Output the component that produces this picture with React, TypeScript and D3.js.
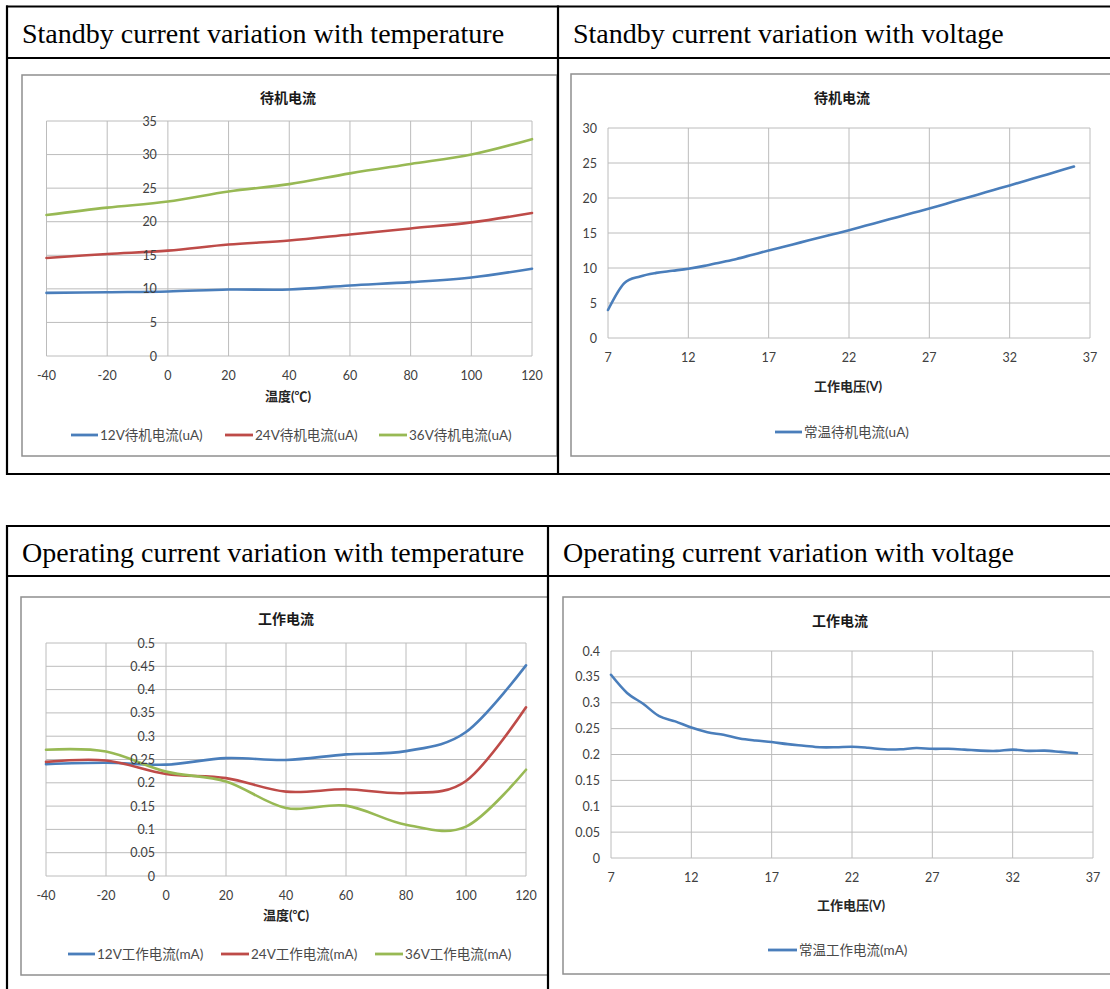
import React from 'react';
import * as d3 from 'd3';

// ---------- DATA ----------
const tempCategories = [-40, -20, 0, 20, 40, 60, 80, 100, 120];
const standby12V = [9.4, 9.5, 9.6, 9.9, 9.9, 10.5, 11.0, 11.7, 13.0];
const standby24V = [14.6, 15.2, 15.7, 16.6, 17.2, 18.1, 19.0, 19.9, 21.3];
const standby36V = [21.0, 22.1, 23.0, 24.5, 25.6, 27.2, 28.6, 30.0, 32.3];

const voltageCategories = [7, 8, 9, 10, 11, 12, 13, 14, 15, 16, 17, 18, 19, 20, 21, 22, 23, 24, 25, 26, 27, 28, 29, 30, 31, 32, 33, 34, 35, 36];
const standbyVsVoltage = [4.0, 7.8, 8.8, 9.3, 9.6, 9.9, 10.3, 10.8, 11.3, 11.9, 12.5, 13.08, 13.66, 14.24, 14.82, 15.4, 16.02, 16.64, 17.26, 17.88, 18.5, 19.16, 19.82, 20.48, 21.14, 21.8, 22.47, 23.14, 23.81, 24.5];

const operating12V = [0.240, 0.243, 0.239, 0.253, 0.249, 0.261, 0.268, 0.309, 0.452];
const operating24V = [0.245, 0.248, 0.219, 0.210, 0.181, 0.186, 0.178, 0.204, 0.362];
const operating36V = [0.271, 0.267, 0.224, 0.203, 0.146, 0.151, 0.110, 0.106, 0.228];

const operatingVsVoltage = [0.354, 0.319, 0.298, 0.274, 0.264, 0.252, 0.243, 0.238, 0.231, 0.227, 0.224, 0.220, 0.217, 0.214, 0.214, 0.215, 0.213, 0.210, 0.210, 0.2125, 0.211, 0.211, 0.2095, 0.2075, 0.207, 0.2095, 0.207, 0.2075, 0.205, 0.2025];

const tempTicks = [-40, -20, 0, 20, 40, 60, 80, 100, 120];
const voltTicks = [7, 12, 17, 22, 27, 32, 37];
const standbyTempYTicks = [0, 5, 10, 15, 20, 25, 30, 35];
const standbyVoltYTicks = [0, 5, 10, 15, 20, 25, 30];
const operatingTempYTicks = [0, 0.05, 0.1, 0.15, 0.2, 0.25, 0.3, 0.35, 0.4, 0.45, 0.5];
const operatingVoltYTicks = [0, 0.05, 0.1, 0.15, 0.2, 0.25, 0.3, 0.35, 0.4];

const headers = [
  'Standby current variation with temperature',
  'Standby current variation with voltage',
  'Operating current variation with temperature',
  'Operating current variation with voltage',
];

const BLUE = '#4a7ebb';
const RED = '#be4b48';
const GREEN = '#98b954';

const TICK_FONT = "Lato, 'Noto Sans CJK SC', sans-serif";
const CJK_FONT = "Lato, 'Noto Sans CJK SC', sans-serif";

type Series = { name: string; color: string; xs: number[]; ys: number[]; legendLine: [number, number]; legendText: number };
type Spec = {
  box: [number, number, number, number];
  plot: { left: number; right: number; top: number; bottom: number };
  xDomain: [number, number];
  xTicks: number[];
  yDomain: [number, number];
  yTicks: number[];
  yAxisAt: number;
  title: string;
  titlePos: [number, number];
  axisTitle: string;
  axisTitlePos: [number, number];
  legendY: number;
  series: Series[];
};

const fmt = (v: number) => String(+v.toFixed(2));

function Chart({ spec }: { spec: Spec }) {
  const x = d3.scaleLinear().domain(spec.xDomain).range([spec.plot.left, spec.plot.right]);
  const y = d3.scaleLinear().domain(spec.yDomain).range([spec.plot.bottom, spec.plot.top]);
  const line = d3
    .line<[number, number]>()
    .x((d) => x(d[0]))
    .y((d) => y(d[1]))
    .curve(d3.curveCatmullRom.alpha(0));
  const [bx0, by0, bx1, by1] = spec.box;
  const axisPx = x(spec.yAxisAt);
  return (
    <g>
      <rect x={bx0} y={by0} width={bx1 - bx0} height={by1 - by0} fill="#fff" stroke="#8f8f8f" strokeWidth={1.5} />
      <text x={spec.titlePos[0]} y={spec.titlePos[1]} textAnchor="middle" dominantBaseline="central"
        fontFamily={CJK_FONT} fontWeight="bold" fontSize={14} fill="#1a1a1a">{spec.title}</text>
      {spec.yTicks.map((t) => (
        <line key={'gy' + t} x1={spec.plot.left} x2={spec.plot.right} y1={y(t)} y2={y(t)} stroke="#bcbcbc" strokeWidth={1} />
      ))}
      {spec.xTicks.map((t) => (
        <line key={'gx' + t} x1={x(t)} x2={x(t)} y1={spec.plot.top} y2={spec.plot.bottom} stroke="#bcbcbc" strokeWidth={1} />
      ))}
      {spec.series.map((s) => (
        <path key={s.name} d={line(s.xs.map((v, i) => [v, s.ys[i]]) as [number, number][]) || ''}
          fill="none" stroke={s.color} strokeWidth={2.6} strokeLinejoin="round" strokeLinecap="round" />
      ))}
      {spec.yTicks.map((t) => (
        <text key={'ly' + t} x={axisPx - 11} y={y(t)} textAnchor="end" dominantBaseline="central"
          fontFamily={TICK_FONT} fontSize={12.5} fill="#404040">{fmt(t)}</text>
      ))}
      {spec.xTicks.map((t) => (
        <text key={'lx' + t} x={x(t)} y={spec.plot.bottom + 19.5} textAnchor="middle" dominantBaseline="central"
          fontFamily={TICK_FONT} fontSize={12.5} fill="#404040">{fmt(t)}</text>
      ))}
      <text x={spec.axisTitlePos[0]} y={spec.axisTitlePos[1]} textAnchor="middle" dominantBaseline="central"
        fontFamily={CJK_FONT} fontWeight="bold" fontSize={13} fill="#262626">{spec.axisTitle}</text>
      {spec.series.map((s) => (
        <g key={'lg' + s.name}>
          <line x1={s.legendLine[0]} x2={s.legendLine[1]} y1={spec.legendY} y2={spec.legendY} stroke={s.color} strokeWidth={2.8} />
          <text x={s.legendText} y={spec.legendY} dominantBaseline="central" fontFamily={CJK_FONT} fontSize={13.5} fill="#4a4a4a">{s.name}</text>
        </g>
      ))}
    </g>
  );
}

const specs: Spec[] = [
  {
    box: [22, 75, 557, 456],
    plot: { left: 46.5, right: 532, top: 121, bottom: 356 },
    xDomain: [-40, 120], xTicks: tempTicks,
    yDomain: [0, 35], yTicks: standbyTempYTicks, yAxisAt: 0,
    title: '待机电流', titlePos: [288, 97],
    axisTitle: '温度(℃)', axisTitlePos: [288, 396],
    legendY: 435,
    series: [
      { name: '12V待机电流(uA)', color: BLUE, xs: tempCategories, ys: standby12V, legendLine: [71, 98], legendText: 100 },
      { name: '24V待机电流(uA)', color: RED, xs: tempCategories, ys: standby24V, legendLine: [225, 253], legendText: 255 },
      { name: '36V待机电流(uA)', color: GREEN, xs: tempCategories, ys: standby36V, legendLine: [379, 407], legendText: 409 },
    ],
  },
  {
    box: [571, 74, 1120, 456],
    plot: { left: 608, right: 1090, top: 128, bottom: 338 },
    xDomain: [7, 37], xTicks: voltTicks,
    yDomain: [0, 30], yTicks: standbyVoltYTicks, yAxisAt: 7,
    title: '待机电流', titlePos: [842, 97],
    axisTitle: '工作电压(V)', axisTitlePos: [848, 386],
    legendY: 432,
    series: [
      { name: '常温待机电流(uA)', color: BLUE, xs: voltageCategories, ys: standbyVsVoltage, legendLine: [775, 802], legendText: 804 },
    ],
  },
  {
    box: [21, 597, 548, 975],
    plot: { left: 46, right: 526, top: 643, bottom: 876 },
    xDomain: [-40, 120], xTicks: tempTicks,
    yDomain: [0, 0.5], yTicks: operatingTempYTicks, yAxisAt: 0,
    title: '工作电流', titlePos: [286, 618],
    axisTitle: '温度(℃)', axisTitlePos: [286, 915],
    legendY: 954,
    series: [
      { name: '12V工作电流(mA)', color: BLUE, xs: tempCategories, ys: operating12V, legendLine: [68, 95], legendText: 97 },
      { name: '24V工作电流(mA)', color: RED, xs: tempCategories, ys: operating24V, legendLine: [221, 249], legendText: 251 },
      { name: '36V工作电流(mA)', color: GREEN, xs: tempCategories, ys: operating36V, legendLine: [375, 403], legendText: 405 },
    ],
  },
  {
    box: [563, 597, 1120, 974],
    plot: { left: 611, right: 1093, top: 651, bottom: 858 },
    xDomain: [7, 37], xTicks: voltTicks,
    yDomain: [0, 0.4], yTicks: operatingVoltYTicks, yAxisAt: 7,
    title: '工作电流', titlePos: [840, 620],
    axisTitle: '工作电压(V)', axisTitlePos: [851, 905],
    legendY: 950,
    series: [
      { name: '常温工作电流(mA)', color: BLUE, xs: voltageCategories, ys: operatingVsVoltage, legendLine: [768, 797], legendText: 799 },
    ],
  },
];

export default function App() {
  const W = 1110;
  const H = 989;
  const headerStyle = { fontFamily: "'Liberation Serif', 'Times New Roman', serif", fontSize: 28, fill: '#000' };
  return (
    <svg width={W} height={H} style={{ position: 'absolute', left: 0, top: 0, background: '#fff' }}>
      <rect x={0} y={0} width={W} height={H} fill="#fff" />
      {specs.map((s, i) => (
        <Chart key={i} spec={s} />
      ))}
      <g stroke="#000" strokeWidth={2.2}>
        <line x1={6} x2={1120} y1={6.5} y2={6.5} />
        <line x1={6} x2={1120} y1={58} y2={58} />
        <line x1={6} x2={1120} y1={474} y2={474} />
        <line x1={7} x2={7} y1={5.5} y2={475} />
        <line x1={558} x2={558} y1={5.5} y2={475} />
        <line x1={6} x2={1120} y1={526} y2={526} />
        <line x1={6} x2={1120} y1={576} y2={576} />
        <line x1={7} x2={7} y1={525} y2={995} />
        <line x1={548} x2={548} y1={525} y2={995} />
      </g>
      <text x={22} y={43} {...headerStyle}>{headers[0]}</text>
      <text x={573} y={43} {...headerStyle}>{headers[1]}</text>
      <text x={22} y={562} {...headerStyle}>{headers[2]}</text>
      <text x={563} y={562} {...headerStyle}>{headers[3]}</text>
    </svg>
  );
}
